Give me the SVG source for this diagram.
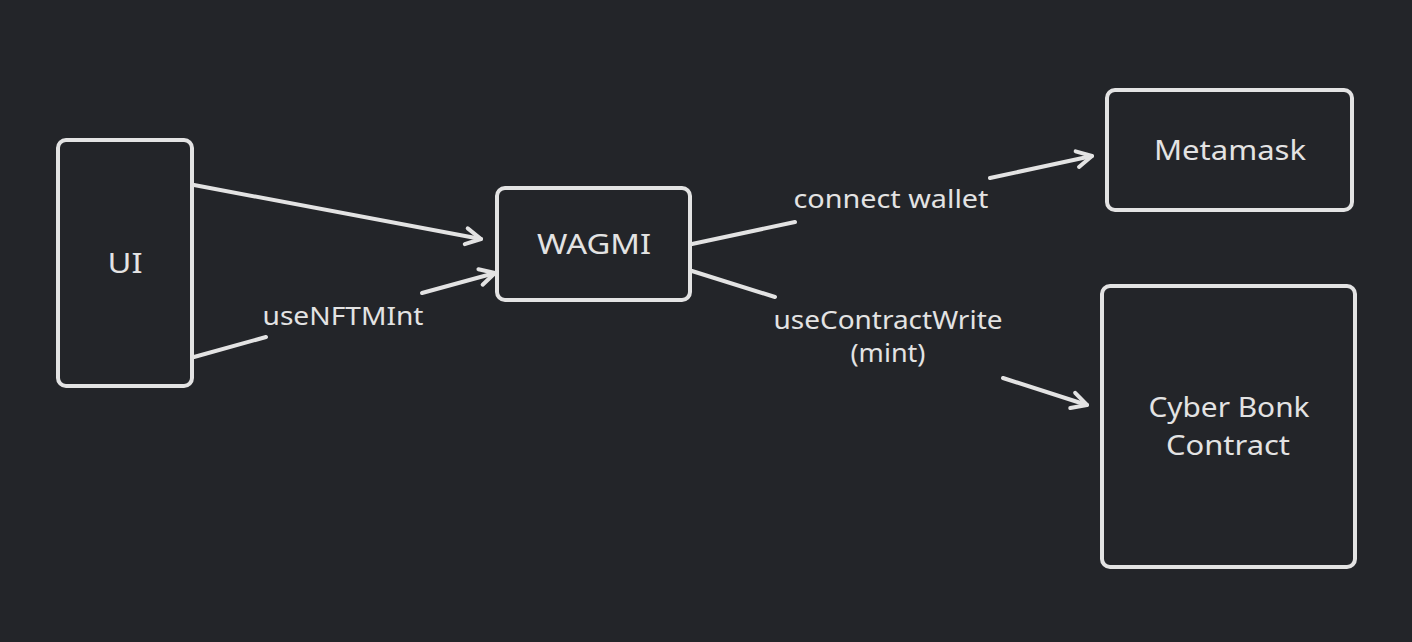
<svg xmlns="http://www.w3.org/2000/svg" width="1412" height="642" viewBox="0 0 1412 642">
  <defs>
    <style>
      .box { fill: #232529; stroke: #e3e3e3; stroke-width: 4; }
      .edge { fill: none; stroke: #e3e3e3; stroke-width: 4; stroke-linecap: round; }
      .lbl { font-family: "Noto Sans", "Liberation Sans", sans-serif; font-size: 27px; fill: #e3e3e3; text-anchor: middle; }
      .elbl { font-family: "Noto Sans", "Liberation Sans", sans-serif; font-size: 25px; fill: #e3e3e3; text-anchor: middle; }
    </style>
    <marker id="arr" markerUnits="userSpaceOnUse" viewBox="-20 -12 24 24" refX="0" refY="0" markerWidth="24" markerHeight="24" orient="auto" overflow="visible">
      <path d="M-15,-8 L0,0 L-15,8" fill="none" stroke="#e3e3e3" stroke-width="4" stroke-linecap="round" stroke-linejoin="round"/>
    </marker>
  </defs>
  <rect width="1412" height="642" fill="#232529"/>

  <g id="connectors">
    <g id="ui-wagmi-1">
      <line class="edge" x1="194" y1="185" x2="481" y2="239" marker-end="url(#arr)"/>
    </g>
    <g id="ui-wagmi-2">
      <line class="edge" x1="194" y1="357" x2="266" y2="337"/>
      <line class="edge" x1="422" y1="293" x2="495" y2="273" marker-end="url(#arr)"/>
      <text class="elbl" x="343" y="325" textLength="161" lengthAdjust="spacingAndGlyphs">useNFTMInt</text>
    </g>
    <g id="wagmi-metamask">
      <line class="edge" x1="692" y1="244" x2="795" y2="222"/>
      <line class="edge" x1="990" y1="178" x2="1092" y2="156" marker-end="url(#arr)"/>
      <text class="elbl" x="891" y="208" textLength="195" lengthAdjust="spacingAndGlyphs">connect wallet</text>
    </g>
    <g id="wagmi-contract">
      <line class="edge" x1="692" y1="271" x2="775" y2="297"/>
      <line class="edge" x1="1003" y1="378" x2="1087" y2="405" marker-end="url(#arr)"/>
      <text class="elbl" x="888" y="329" textLength="229" lengthAdjust="spacingAndGlyphs">useContractWrite</text>
      <text class="elbl" x="888" y="362" textLength="75" lengthAdjust="spacingAndGlyphs">(mint)</text>
    </g>
  </g>

  <g id="ui">
    <rect class="box" x="58" y="140" width="134" height="246" rx="8"/>
    <text class="lbl" x="125" y="273" textLength="35" lengthAdjust="spacingAndGlyphs">UI</text>
  </g>
  <g id="wagmi">
    <rect class="box" x="497" y="188" width="193" height="112" rx="8"/>
    <text class="lbl" x="594" y="254" textLength="114" lengthAdjust="spacingAndGlyphs">WAGMI</text>
  </g>
  <g id="metamask">
    <rect class="box" x="1107" y="90" width="245" height="120" rx="8"/>
    <text class="lbl" x="1230" y="160" textLength="152" lengthAdjust="spacingAndGlyphs">Metamask</text>
  </g>
  <g id="contract">
    <rect class="box" x="1102" y="286" width="253" height="281" rx="8"/>
    <text class="lbl" x="1229" y="417" textLength="161" lengthAdjust="spacingAndGlyphs">Cyber Bonk</text>
    <text class="lbl" x="1228" y="455" textLength="124" lengthAdjust="spacingAndGlyphs">Contract</text>
  </g>
</svg>
